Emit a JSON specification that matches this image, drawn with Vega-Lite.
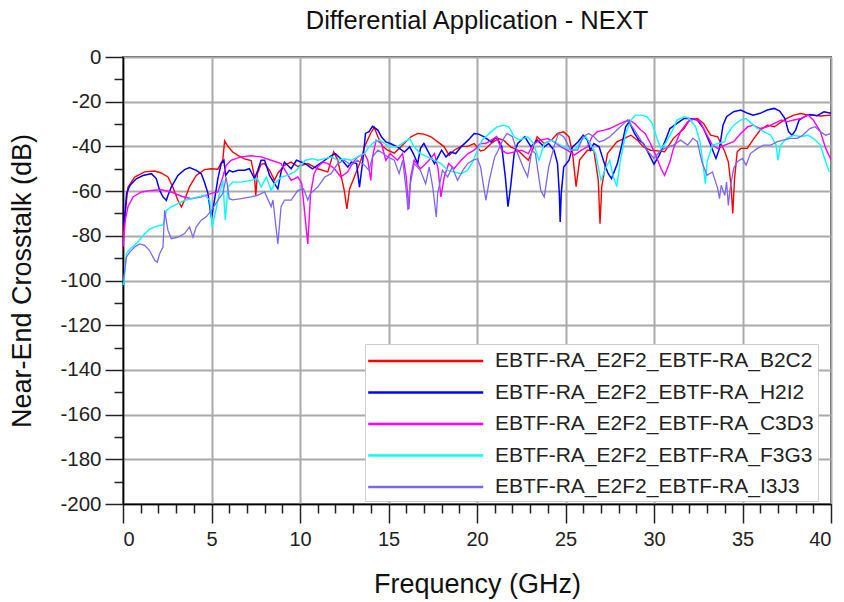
{
  "$schema": "https://vega.github.io/schema/vega-lite/v6.json",
  "width": 708,
  "height": 447,
  "autosize": {"type": "none"},
  "padding": {"left": 123, "top": 57, "right": 13, "bottom": 98},
  "background": "white",
  "title": {"text": "Differential Application - NEXT", "fontSize": 25.5, "fontWeight": "normal", "font": "Liberation Sans", "color": "#111", "anchor": "middle", "offset": 13},
  "config": {
    "view": {"stroke": "#555", "strokeWidth": 2},
    "axis": {"labelFont": "Liberation Sans", "titleFont": "Liberation Sans", "labelColor": "#222", "titleColor": "#111", "titleFontWeight": "normal", "domainColor": "#000", "domainWidth": 1.5, "tickColor": "#222", "tickWidth": 1.5, "gridColor": "#aaaaaa", "gridWidth": 2}
  },
  "layer": [
    {"data": {"values": [
      {"f":0,"d":-80},{"f":0.05,"d":-78},{"f":0.1,"d":-72},{"f":0.28,"d":-58.3},{"f":0.66,"d":-53.7},{"f":1.22,"d":-51.4},{"f":1.79,"d":-51},{"f":2.16,"d":-51.9},{"f":2.54,"d":-53.7},{"f":2.82,"d":-58.3},{"f":3.1,"d":-64.1},{"f":3.3,"d":-67.1},{"f":3.48,"d":-64},{"f":3.76,"d":-58},{"f":4.14,"d":-53},{"f":4.6,"d":-50.4},{"f":4.98,"d":-50},{"f":5.36,"d":-50.2},{"f":5.64,"d":-46},{"f":5.74,"d":-37.5},{"f":5.93,"d":-40},{"f":6.2,"d":-42.5},{"f":6.49,"d":-44},{"f":6.86,"d":-45.6},{"f":7.24,"d":-46.3},{"f":7.43,"d":-53.7},{"f":7.5,"d":-62},{"f":7.6,"d":-52},{"f":7.8,"d":-48},{"f":8,"d":-47.7},{"f":8.28,"d":-50.7},{"f":8.56,"d":-55.2},{"f":8.75,"d":-52},{"f":9.12,"d":-48.5},{"f":9.5,"d":-47},{"f":9.88,"d":-49},{"f":10.44,"d":-47.7},{"f":11,"d":-50},{"f":11.57,"d":-51.4},{"f":11.9,"d":-42.5},{"f":12.13,"d":-46},{"f":12.5,"d":-59.7},{"f":12.65,"d":-68},{"f":12.8,"d":-59},{"f":13.07,"d":-53.7},{"f":13.45,"d":-46},{"f":13.64,"d":-40.2},{"f":14,"d":-34},{"f":14.2,"d":-31.5},{"f":14.4,"d":-35.7},{"f":14.67,"d":-40},{"f":14.95,"d":-41.7},{"f":15.33,"d":-43},{"f":15.7,"d":-40.2},{"f":16.27,"d":-35.7},{"f":16.65,"d":-34.2},{"f":17,"d":-34.5},{"f":17.4,"d":-35.7},{"f":17.78,"d":-38},{"f":18.15,"d":-40.2},{"f":18.43,"d":-44},{"f":18.7,"d":-41.7},{"f":19.1,"d":-40},{"f":19.47,"d":-40},{"f":19.84,"d":-38.7},{"f":20.2,"d":-42},{"f":20.4,"d":-41.7},{"f":20.8,"d":-38.7},{"f":21.2,"d":-36.5},{"f":21.5,"d":-37.2},{"f":21.9,"d":-40.2},{"f":22.3,"d":-41.7},{"f":22.9,"d":-46.2},{"f":23.1,"d":-42.5},{"f":23.4,"d":-35.7},{"f":23.8,"d":-38.7},{"f":24.2,"d":-37.2},{"f":24.55,"d":-34.2},{"f":24.9,"d":-33.5},{"f":25.2,"d":-35.7},{"f":25.4,"d":-43.2},{"f":25.6,"d":-58},{"f":25.8,"d":-46},{"f":26.24,"d":-41.7},{"f":26.6,"d":-41.7},{"f":26.85,"d":-55},{"f":26.95,"d":-74.6},{"f":27.05,"d":-58},{"f":27.37,"d":-43.2},{"f":27.9,"d":-38},{"f":28.3,"d":-36.5},{"f":28.7,"d":-35},{"f":29.06,"d":-37.2},{"f":29.4,"d":-40.2},{"f":29.8,"d":-41.7},{"f":30.2,"d":-42},{"f":30.6,"d":-42.4},{"f":31.1,"d":-36.4},{"f":31.7,"d":-32},{"f":32,"d":-28.2},{"f":32.45,"d":-27.5},{"f":32.8,"d":-29.7},{"f":33.2,"d":-35},{"f":33.6,"d":-35.7},{"f":34,"d":-42.4},{"f":34.2,"d":-46.9},{"f":34.35,"d":-57.4},{"f":34.45,"d":-70},{"f":34.55,"d":-54.5},{"f":34.7,"d":-42.4},{"f":34.9,"d":-40.9},{"f":35.27,"d":-40.9},{"f":35.65,"d":-36.4},{"f":36,"d":-32.7},{"f":36.4,"d":-30.5},{"f":36.8,"d":-31.2},{"f":37.2,"d":-29},{"f":37.5,"d":-27.5},{"f":37.9,"d":-26},{"f":38.3,"d":-25.3},{"f":38.7,"d":-26},{"f":39,"d":-26},{"f":39.4,"d":-26.4},{"f":40,"d":-26}
    ]},
    "mark": {"type": "line", "strokeWidth": 1.4},
    "encoding": {"x": {"field": "f", "type": "quantitative"}, "y": {"field": "d", "type": "quantitative"}, "color": {"datum": "EBTF-RA_E2F2_EBTF-RA_B2C2"}}},
    {"data": {"values": [
      {"f":0,"d":-75},{"f":0.05,"d":-74},{"f":0.1,"d":-71.5},{"f":0.2,"d":-61},{"f":0.4,"d":-57.4},{"f":0.75,"d":-54.5},{"f":1.13,"d":-53},{"f":1.6,"d":-52.2},{"f":1.88,"d":-54.4},{"f":2.07,"d":-59.7},{"f":2.26,"d":-62.6},{"f":2.45,"d":-64.1},{"f":2.54,"d":-62},{"f":2.73,"d":-58.2},{"f":3.1,"d":-53},{"f":3.48,"d":-50.4},{"f":3.76,"d":-49.5},{"f":4.14,"d":-50.7},{"f":4.42,"d":-52.2},{"f":4.6,"d":-55.9},{"f":4.8,"d":-61},{"f":4.93,"d":-68.6},{"f":5,"d":-72},{"f":5.17,"d":-64},{"f":5.36,"d":-54.4},{"f":5.55,"d":-47.7},{"f":5.7,"d":-46.2},{"f":5.8,"d":-53},{"f":6,"d":-50.7},{"f":6.2,"d":-51.4},{"f":6.5,"d":-50.7},{"f":6.86,"d":-50.7},{"f":7.14,"d":-50},{"f":7.43,"d":-54.4},{"f":7.62,"d":-50.7},{"f":7.8,"d":-46.2},{"f":8,"d":-46.2},{"f":8.28,"d":-53},{"f":8.56,"d":-56.7},{"f":8.75,"d":-59},{"f":8.93,"d":-51.4},{"f":9.12,"d":-47},{"f":9.5,"d":-50},{"f":9.8,"d":-46.2},{"f":10.3,"d":-47.7},{"f":10.7,"d":-50},{"f":11,"d":-48.4},{"f":11.4,"d":-46.2},{"f":11.8,"d":-44},{"f":12,"d":-43.2},{"f":12.3,"d":-45.5},{"f":12.7,"d":-49.2},{"f":12.9,"d":-47},{"f":13.2,"d":-47.7},{"f":13.36,"d":-58.2},{"f":13.55,"d":-46.2},{"f":13.7,"d":-34.2},{"f":13.9,"d":-33.4},{"f":14.1,"d":-31},{"f":14.4,"d":-32.7},{"f":14.6,"d":-35.7},{"f":14.85,"d":-38},{"f":15.1,"d":-38.7},{"f":15.5,"d":-40.2},{"f":15.9,"d":-42.5},{"f":16.2,"d":-40.2},{"f":16.4,"d":-43.2},{"f":16.65,"d":-47.7},{"f":16.8,"d":-41},{"f":17,"d":-38.7},{"f":17.3,"d":-43.2},{"f":17.6,"d":-47.7},{"f":17.8,"d":-44.7},{"f":18,"d":-41.7},{"f":18.25,"d":-44.7},{"f":18.5,"d":-42.5},{"f":18.8,"d":-43.2},{"f":19.1,"d":-40.2},{"f":19.5,"d":-37.2},{"f":19.84,"d":-34.2},{"f":20.1,"d":-34.5},{"f":20.4,"d":-35.7},{"f":20.8,"d":-38},{"f":21.1,"d":-35.7},{"f":21.4,"d":-40.2},{"f":21.6,"d":-53.6},{"f":21.75,"d":-67},{"f":21.9,"d":-58},{"f":22.1,"d":-43.2},{"f":22.3,"d":-38.7},{"f":22.7,"d":-35.7},{"f":23.05,"d":-40.2},{"f":23.4,"d":-37.2},{"f":23.8,"d":-40.2},{"f":24.05,"d":-38.7},{"f":24.35,"d":-41.7},{"f":24.55,"d":-47.7},{"f":24.65,"d":-61},{"f":24.7,"d":-73.8},{"f":24.76,"d":-61},{"f":24.9,"d":-49.2},{"f":25.2,"d":-46.2},{"f":25.4,"d":-40.2},{"f":25.7,"d":-38},{"f":26,"d":-35},{"f":26.24,"d":-37.2},{"f":26.4,"d":-41.7},{"f":26.6,"d":-38.7},{"f":26.9,"d":-40.2},{"f":27.2,"d":-47.7},{"f":27.4,"d":-52},{"f":27.6,"d":-54.4},{"f":27.93,"d":-47.7},{"f":28.2,"d":-38.7},{"f":28.4,"d":-31.2},{"f":28.6,"d":-29},{"f":28.9,"d":-34.2},{"f":29.15,"d":-37.2},{"f":29.4,"d":-38.7},{"f":29.7,"d":-43.2},{"f":30,"d":-48},{"f":30.3,"d":-43.9},{"f":30.65,"d":-37.2},{"f":30.9,"d":-32},{"f":31.3,"d":-29.7},{"f":31.7,"d":-27.5},{"f":32,"d":-27.5},{"f":32.45,"d":-28.2},{"f":32.8,"d":-32},{"f":33.2,"d":-39.4},{"f":33.5,"d":-45.4},{"f":33.7,"d":-40.9},{"f":33.9,"d":-30.5},{"f":34.1,"d":-26.7},{"f":34.5,"d":-24.5},{"f":34.9,"d":-23.7},{"f":35.3,"d":-25.2},{"f":35.6,"d":-26},{"f":36,"d":-25.2},{"f":36.4,"d":-23.7},{"f":36.8,"d":-23},{"f":37.1,"d":-24.2},{"f":37.4,"d":-27.5},{"f":37.6,"d":-33.4},{"f":37.8,"d":-35},{"f":38,"d":-32.7},{"f":38.2,"d":-28.2},{"f":38.5,"d":-26.7},{"f":38.8,"d":-25.7},{"f":39.2,"d":-26.3},{"f":39.6,"d":-24.5},{"f":40,"d":-25.2}
    ]},
    "mark": {"type": "line", "strokeWidth": 1.5},
    "encoding": {"x": {"field": "f", "type": "quantitative"}, "y": {"field": "d", "type": "quantitative"}, "color": {"datum": "EBTF-RA_E2F2_EBTF-RA_H2I2"}}},
    {"data": {"values": [
      {"f":0,"d":-85},{"f":0.05,"d":-80.6},{"f":0.13,"d":-73},{"f":0.28,"d":-67},{"f":0.57,"d":-62.6},{"f":1.04,"d":-60.4},{"f":1.6,"d":-59.7},{"f":2.16,"d":-59.4},{"f":2.73,"d":-60.4},{"f":3.3,"d":-62.3},{"f":3.85,"d":-63.4},{"f":4.42,"d":-62.6},{"f":5,"d":-61},{"f":5.36,"d":-60.4},{"f":5.64,"d":-53.7},{"f":5.83,"d":-48.5},{"f":6.1,"d":-46.2},{"f":6.68,"d":-44.7},{"f":7.24,"d":-44.2},{"f":7.8,"d":-44.7},{"f":8.37,"d":-46.2},{"f":8.93,"d":-47.7},{"f":9.5,"d":-55.2},{"f":9.88,"d":-53.7},{"f":10.1,"d":-56.7},{"f":10.25,"d":-68.6},{"f":10.44,"d":-83.6},{"f":10.6,"d":-61},{"f":10.8,"d":-52.2},{"f":11,"d":-49.2},{"f":11.3,"d":-47},{"f":11.57,"d":-47.7},{"f":11.95,"d":-50},{"f":12.3,"d":-53.7},{"f":12.7,"d":-51.4},{"f":12.95,"d":-47.7},{"f":13.26,"d":-44.7},{"f":13.64,"d":-43.2},{"f":13.83,"d":-46.2},{"f":14,"d":-55.2},{"f":14.1,"d":-44.7},{"f":14.3,"d":-37.2},{"f":14.6,"d":-38.7},{"f":14.85,"d":-46.2},{"f":15.1,"d":-43.2},{"f":15.5,"d":-46.2},{"f":15.8,"d":-43.2},{"f":16,"d":-53.7},{"f":16.15,"d":-68},{"f":16.25,"d":-53.7},{"f":16.45,"d":-46.2},{"f":16.8,"d":-50},{"f":17.2,"d":-47},{"f":17.6,"d":-43.2},{"f":17.8,"d":-50},{"f":17.96,"d":-62.6},{"f":18.15,"d":-53.7},{"f":18.4,"d":-47.7},{"f":18.7,"d":-50},{"f":19.1,"d":-46.2},{"f":19.5,"d":-43.2},{"f":19.84,"d":-41.7},{"f":20.2,"d":-38.7},{"f":20.5,"d":-38.7},{"f":20.8,"d":-37.2},{"f":21.1,"d":-35.7},{"f":21.4,"d":-41.7},{"f":21.7,"d":-43.2},{"f":22.1,"d":-42.5},{"f":22.5,"d":-41.7},{"f":22.9,"d":-43.2},{"f":23.2,"d":-38.7},{"f":23.6,"d":-37.2},{"f":24,"d":-36.5},{"f":24.35,"d":-38},{"f":24.75,"d":-40.2},{"f":25.1,"d":-41.7},{"f":25.5,"d":-43.9},{"f":25.9,"d":-41.7},{"f":26.24,"d":-40.2},{"f":26.5,"d":-35.7},{"f":26.8,"d":-33.4},{"f":27.2,"d":-32.7},{"f":27.5,"d":-32},{"f":27.9,"d":-30.5},{"f":28.3,"d":-29},{"f":28.6,"d":-28.2},{"f":28.9,"d":-29.7},{"f":29.25,"d":-32.7},{"f":29.5,"d":-34.2},{"f":29.8,"d":-38.7},{"f":30.1,"d":-44},{"f":30.4,"d":-50},{"f":30.6,"d":-52.9},{"f":30.9,"d":-46.9},{"f":31.1,"d":-40.9},{"f":31.5,"d":-33.4},{"f":31.9,"d":-29},{"f":32.3,"d":-27.5},{"f":32.6,"d":-29},{"f":33,"d":-35},{"f":33.3,"d":-39.4},{"f":33.6,"d":-40.9},{"f":34,"d":-39.4},{"f":34.5,"d":-37.9},{"f":34.9,"d":-34.2},{"f":35.3,"d":-31.2},{"f":35.6,"d":-30.5},{"f":36,"d":-32},{"f":36.4,"d":-31.2},{"f":36.8,"d":-29.7},{"f":37.2,"d":-28.2},{"f":37.5,"d":-29},{"f":37.9,"d":-28.2},{"f":38.3,"d":-27.5},{"f":38.7,"d":-26},{"f":39,"d":-28.2},{"f":39.4,"d":-33.4},{"f":39.7,"d":-40.9},{"f":40,"d":-46}
    ]},
    "mark": {"type": "line", "strokeWidth": 1.4},
    "encoding": {"x": {"field": "f", "type": "quantitative"}, "y": {"field": "d", "type": "quantitative"}, "color": {"datum": "EBTF-RA_E2F2_EBTF-RA_C3D3"}}},
    {"data": {"values": [
      {"f":0,"d":-102},{"f":0.05,"d":-101},{"f":0.19,"d":-88},{"f":0.38,"d":-86},{"f":0.75,"d":-83.6},{"f":1.13,"d":-80},{"f":1.5,"d":-77},{"f":1.97,"d":-75.6},{"f":2.26,"d":-75},{"f":2.35,"d":-73},{"f":2.45,"d":-68.6},{"f":2.73,"d":-67},{"f":3.1,"d":-65.6},{"f":3.48,"d":-64.1},{"f":3.85,"d":-63.4},{"f":4.23,"d":-62.6},{"f":4.6,"d":-61.9},{"f":4.9,"d":-64},{"f":5.04,"d":-76},{"f":5.17,"d":-71.5},{"f":5.36,"d":-64.1},{"f":5.64,"d":-55.2},{"f":5.78,"d":-73},{"f":5.93,"d":-58.2},{"f":6.2,"d":-56},{"f":6.68,"d":-56},{"f":7.24,"d":-55.2},{"f":7.6,"d":-54.4},{"f":7.8,"d":-58.2},{"f":8.1,"d":-53.7},{"f":8.37,"d":-59.7},{"f":8.56,"d":-56.7},{"f":8.93,"d":-53.7},{"f":9.3,"d":-53},{"f":9.7,"d":-51.4},{"f":10.06,"d":-48.4},{"f":10.3,"d":-46.2},{"f":10.7,"d":-45.5},{"f":11,"d":-46.2},{"f":11.4,"d":-45.5},{"f":11.8,"d":-44.7},{"f":12.13,"d":-46.2},{"f":12.5,"d":-45.5},{"f":12.9,"d":-46.2},{"f":13.26,"d":-44.7},{"f":13.64,"d":-43.2},{"f":13.9,"d":-40.2},{"f":14.2,"d":-38},{"f":14.5,"d":-37.2},{"f":14.77,"d":-38.7},{"f":15.1,"d":-40.2},{"f":15.5,"d":-40.2},{"f":15.9,"d":-38},{"f":16.2,"d":-36.5},{"f":16.45,"d":-40.2},{"f":16.8,"d":-43.2},{"f":17.2,"d":-44.7},{"f":17.6,"d":-46.2},{"f":17.96,"d":-47.7},{"f":18.34,"d":-50.7},{"f":18.7,"d":-51.4},{"f":19.1,"d":-52.2},{"f":19.47,"d":-50.7},{"f":19.75,"d":-47},{"f":20.03,"d":-41.7},{"f":20.3,"d":-37},{"f":20.6,"d":-35},{"f":20.8,"d":-33.4},{"f":21.16,"d":-31.2},{"f":21.5,"d":-30.5},{"f":21.8,"d":-31.2},{"f":22.1,"d":-35.7},{"f":22.4,"d":-37.2},{"f":22.86,"d":-35.7},{"f":23.2,"d":-38.7},{"f":23.5,"d":-46.2},{"f":23.8,"d":-38.7},{"f":24.2,"d":-37.2},{"f":24.55,"d":-38.7},{"f":24.9,"d":-40.2},{"f":25.3,"d":-41.7},{"f":25.6,"d":-41},{"f":25.9,"d":-37.2},{"f":26.15,"d":-35.7},{"f":26.4,"d":-38.7},{"f":26.7,"d":-43.2},{"f":27,"d":-55.1},{"f":27.3,"d":-49.2},{"f":27.5,"d":-46.2},{"f":27.7,"d":-53.6},{"f":27.9,"d":-58},{"f":28.1,"d":-46.2},{"f":28.4,"d":-34.2},{"f":28.7,"d":-28.2},{"f":28.96,"d":-26},{"f":29.25,"d":-26},{"f":29.6,"d":-26.7},{"f":29.9,"d":-29.7},{"f":30.2,"d":-37.2},{"f":30.4,"d":-41},{"f":30.7,"d":-38},{"f":31.1,"d":-32},{"f":31.3,"d":-28.2},{"f":31.7,"d":-26.7},{"f":32,"d":-27.5},{"f":32.35,"d":-31.2},{"f":32.6,"d":-37.9},{"f":32.8,"d":-49.9},{"f":32.9,"d":-56.7},{"f":33,"d":-46.9},{"f":33.3,"d":-39.4},{"f":33.7,"d":-38.6},{"f":34,"d":-37.9},{"f":34.1,"d":-35},{"f":34.5,"d":-30.5},{"f":34.9,"d":-28.2},{"f":35.2,"d":-27.5},{"f":35.5,"d":-29.7},{"f":35.84,"d":-32},{"f":36.2,"d":-33.4},{"f":36.6,"d":-35},{"f":36.9,"d":-39.4},{"f":37,"d":-46.2},{"f":37.15,"d":-39.4},{"f":37.5,"d":-36.4},{"f":37.9,"d":-35},{"f":38.3,"d":-35.7},{"f":38.7,"d":-35},{"f":39,"d":-36.4},{"f":39.4,"d":-39.4},{"f":39.7,"d":-46.9},{"f":39.9,"d":-51.4}
    ]},
    "mark": {"type": "line", "strokeWidth": 1.4},
    "encoding": {"x": {"field": "f", "type": "quantitative"}, "y": {"field": "d", "type": "quantitative"}, "color": {"datum": "EBTF-RA_E2F2_EBTF-RA_F3G3"}}},
    {"data": {"values": [
      {"f":0,"d":-100},{"f":0.05,"d":-98.5},{"f":0.19,"d":-89.6},{"f":0.38,"d":-87.3},{"f":0.66,"d":-85},{"f":0.94,"d":-83.6},{"f":1.22,"d":-84.3},{"f":1.5,"d":-86.6},{"f":1.79,"d":-91},{"f":1.94,"d":-91.8},{"f":2.07,"d":-88},{"f":2.26,"d":-85},{"f":2.35,"d":-68.6},{"f":2.54,"d":-77.6},{"f":2.73,"d":-81.3},{"f":3.1,"d":-80.6},{"f":3.48,"d":-79},{"f":3.76,"d":-76},{"f":3.95,"d":-80.6},{"f":4.14,"d":-76},{"f":4.42,"d":-73},{"f":4.7,"d":-71.5},{"f":5,"d":-68.6},{"f":5.36,"d":-64.1},{"f":5.64,"d":-61},{"f":5.83,"d":-53.7},{"f":6,"d":-63.4},{"f":6.2,"d":-63.9},{"f":6.68,"d":-63.4},{"f":7.24,"d":-62.6},{"f":7.6,"d":-61.9},{"f":8,"d":-60.4},{"f":8.37,"d":-67},{"f":8.47,"d":-64},{"f":8.75,"d":-83.6},{"f":8.93,"d":-67},{"f":9.12,"d":-64},{"f":9.5,"d":-64},{"f":9.88,"d":-59.7},{"f":10.2,"d":-59},{"f":10.44,"d":-64},{"f":10.6,"d":-61},{"f":11,"d":-58.2},{"f":11.4,"d":-53.7},{"f":11.75,"d":-52.2},{"f":12.13,"d":-47.7},{"f":12.5,"d":-46.2},{"f":12.9,"d":-48.4},{"f":13.26,"d":-46.2},{"f":13.64,"d":-48.4},{"f":13.9,"d":-50.7},{"f":14.1,"d":-44.7},{"f":14.4,"d":-41.7},{"f":14.7,"d":-43.2},{"f":14.95,"d":-44.7},{"f":15.33,"d":-46.2},{"f":15.6,"d":-52.2},{"f":15.8,"d":-46.2},{"f":16,"d":-59.7},{"f":16.1,"d":-68.6},{"f":16.2,"d":-58.2},{"f":16.45,"d":-47.7},{"f":16.8,"d":-50.7},{"f":17.1,"d":-56.7},{"f":17.3,"d":-49.2},{"f":17.5,"d":-58.2},{"f":17.7,"d":-71.6},{"f":17.78,"d":-61},{"f":18.05,"d":-50.7},{"f":18.34,"d":-53.7},{"f":18.6,"d":-49.2},{"f":18.9,"d":-55.2},{"f":19.2,"d":-50.7},{"f":19.47,"d":-47.7},{"f":19.75,"d":-46.2},{"f":20.03,"d":-45.5},{"f":20.2,"d":-49.2},{"f":20.5,"d":-64.1},{"f":20.7,"d":-55},{"f":21,"d":-44.7},{"f":21.2,"d":-41.7},{"f":21.45,"d":-37.2},{"f":21.7,"d":-34.2},{"f":22,"d":-35.7},{"f":22.3,"d":-43.2},{"f":22.6,"d":-49.2},{"f":22.86,"d":-53.6},{"f":23.1,"d":-41.7},{"f":23.3,"d":-43.2},{"f":23.6,"d":-59.6},{"f":23.8,"d":-62.6},{"f":24.05,"d":-49.2},{"f":24.35,"d":-40.2},{"f":24.6,"d":-34.2},{"f":24.9,"d":-35.7},{"f":25.3,"d":-41.7},{"f":25.68,"d":-41.7},{"f":26,"d":-35.7},{"f":26.3,"d":-34.2},{"f":26.6,"d":-35.7},{"f":26.9,"d":-38},{"f":27.2,"d":-37.2},{"f":27.5,"d":-35.7},{"f":27.9,"d":-32.7},{"f":28.3,"d":-29.7},{"f":28.5,"d":-28.2},{"f":28.9,"d":-32.7},{"f":29.25,"d":-37.2},{"f":29.6,"d":-41.7},{"f":30,"d":-45.4},{"f":30.3,"d":-42.5},{"f":30.6,"d":-40.9},{"f":31.1,"d":-39.4},{"f":31.5,"d":-37.2},{"f":31.9,"d":-39.4},{"f":32.2,"d":-36.4},{"f":32.45,"d":-37.9},{"f":32.7,"d":-46.9},{"f":33,"d":-52.9},{"f":33.3,"d":-51.4},{"f":33.6,"d":-58.9},{"f":33.7,"d":-63.4},{"f":33.8,"d":-57.4},{"f":34,"d":-61.9},{"f":34.1,"d":-55.9},{"f":34.2,"d":-66.4},{"f":34.3,"d":-58.9},{"f":34.5,"d":-49.9},{"f":34.7,"d":-46.9},{"f":35,"d":-45.4},{"f":35.2,"d":-48.4},{"f":35.45,"d":-43.2},{"f":35.84,"d":-40.9},{"f":36.2,"d":-39.4},{"f":36.6,"d":-39.4},{"f":36.97,"d":-37.9},{"f":37.3,"d":-37.2},{"f":37.7,"d":-36.4},{"f":38.1,"d":-36.4},{"f":38.4,"d":-35},{"f":38.8,"d":-32},{"f":39.1,"d":-31.2},{"f":39.4,"d":-33.4},{"f":39.7,"d":-35},{"f":40,"d":-34.2}
    ]},
    "mark": {"type": "line", "strokeWidth": 1.3},
    "encoding": {"x": {"field": "f", "type": "quantitative"}, "y": {"field": "d", "type": "quantitative"}, "color": {"datum": "EBTF-RA_E2F2_EBTF-RA_I3J3"}}}
  ],
  "encoding": {
    "x": {"field": "f", "type": "quantitative", "scale": {"domain": [0, 40], "nice": false, "zero": false},
      "axis": {"title": "Frequency (GHz)", "titleFontSize": 27, "titlePadding": 22, "labelFontSize": 20, "labelPadding": 6,
        "values": [0,1,2,3,4,5,6,7,8,9,10,11,12,13,14,15,16,17,18,19,20,21,22,23,24,25,26,27,28,29,30,31,32,33,34,35,36,37,38,39,40],
        "labelExpr": "datum.value % 5 === 0 ? datum.label : ''",
        "tickSize": {"condition": {"test": "datum.value % 5 === 0", "value": 19}, "value": 9},
        "gridOpacity": {"condition": {"test": "datum.value % 5 === 0", "value": 1}, "value": 0}}},
    "y": {"field": "d", "type": "quantitative", "scale": {"domain": [-200, 0], "nice": false, "zero": false},
      "axis": {"title": "Near-End Crosstalk (dB)", "titleFontSize": 27, "titlePadding": 23, "labelFontSize": 20.5, "labelPadding": 4,
        "values": [-200,-190,-180,-170,-160,-150,-140,-130,-120,-110,-100,-90,-80,-70,-60,-50,-40,-30,-20,-10,0],
        "labelExpr": "datum.value % 20 === 0 ? '' + datum.value : ''",
        "tickSize": {"condition": {"test": "datum.value % 20 === 0", "value": 18}, "value": 9},
        "gridOpacity": {"condition": {"test": "datum.value % 20 === 0", "value": 1}, "value": 0}}},
    "color": {"type": "nominal", "scale": {"domain": ["EBTF-RA_E2F2_EBTF-RA_B2C2", "EBTF-RA_E2F2_EBTF-RA_H2I2", "EBTF-RA_E2F2_EBTF-RA_C3D3", "EBTF-RA_E2F2_EBTF-RA_F3G3", "EBTF-RA_E2F2_EBTF-RA_I3J3"], "range": ["#ff0000", "#0000ff", "#ff00ff", "#00ffff", "#7b68ee"]},
      "legend": {"title": null, "orient": "none", "legendX": 242, "legendY": 287, "fillColor": "white", "strokeColor": "#cccccc", "padding": 4, "symbolType": "M-1.2,0H8.8", "symbolSize": 529, "symbolStrokeWidth": 2.6, "labelFontSize": 21, "labelFont": "Liberation Sans", "labelColor": "#222", "labelOffset": 100, "rowPadding": 8.5, "labelLimit": 400}}
  }
}
